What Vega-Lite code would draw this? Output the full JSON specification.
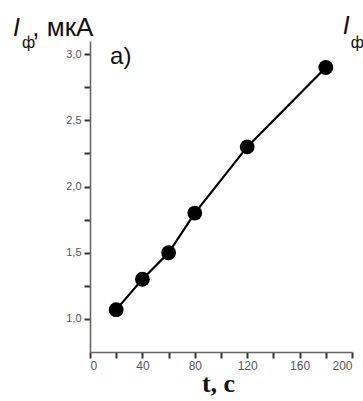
{
  "$schema": "https://vega.github.io/schema/vega-lite/v6.json",
  "width": 262,
  "height": 311,
  "autosize": {"type": "none"},
  "padding": {"left": 90, "top": 41, "right": 11, "bottom": 49},
  "background": "white",
  "config": {
    "view": {"stroke": null},
    "axis": {"grid": false, "domainColor": "#666", "domainWidth": 1.6, "ticks": true, "tickColor": "#333", "tickWidth": 2, "tickSize": 6, "labelColor": "#555", "labelFont": "Liberation Sans", "titleColor": "#111"}
  },
  "encoding": {
    "x": {"type": "quantitative", "scale": {"domain": [0, 200], "nice": false},
      "axis": {"values": [0, 20, 40, 60, 80, 100, 120, 140, 160, 180, 200],
        "labelExpr": "datum.value % 40 === 0 ? format(datum.value, 'd') : ''",
        "labelFontSize": 12, "labelPadding": 2,
        "title": "t, c", "titleFont": "Liberation Serif", "titleFontWeight": "bold", "titleFontSize": 26,
        "titleX": 128, "titleY": 39, "titleBaseline": "alphabetic"}},
    "y": {"type": "quantitative", "scale": {"domain": [0.75, 3.1], "nice": false, "zero": false},
      "axis": {"values": [1.0, 1.25, 1.5, 1.75, 2.0, 2.25, 2.5, 2.75, 3.0],
        "labelExpr": "datum.value % 0.5 === 0 ? replace(format(datum.value, '.1f'), '.', ',') : ''",
        "labelFontSize": 11, "labelPadding": 3, "title": null}}
  },
  "layer": [
    {
      "data": {"values": [
        {"t": 20, "I": 1.07},
        {"t": 40, "I": 1.3},
        {"t": 60, "I": 1.5},
        {"t": 80, "I": 1.8},
        {"t": 120, "I": 2.3},
        {"t": 180, "I": 2.9}
      ]},
      "encoding": {"x": {"field": "t"}, "y": {"field": "I"}},
      "layer": [
        {"mark": {"type": "line", "color": "black", "strokeWidth": 2.2}},
        {"mark": {"type": "point", "filled": true, "color": "black", "opacity": 1, "size": 220}}
      ]
    },
    {
      "data": {"values": [{}]},
      "mark": {"type": "text", "text": "I", "font": "Liberation Sans", "fontStyle": "italic", "fontSize": 25, "align": "left", "baseline": "alphabetic", "color": "#111", "clip": false},
      "encoding": {"x": {"datum": -58.8}, "y": {"datum": 3.136}}
    },
    {
      "data": {"values": [{}]},
      "mark": {"type": "text", "text": "ф", "font": "Liberation Sans", "fontSize": 16, "align": "left", "baseline": "alphabetic", "color": "#111", "clip": false},
      "encoding": {"x": {"datum": -52}, "y": {"datum": 3.045}}
    },
    {
      "data": {"values": [{}]},
      "mark": {"type": "text", "text": ", мкА", "font": "Liberation Sans", "fontSize": 26, "align": "left", "baseline": "alphabetic", "color": "#111", "clip": false},
      "encoding": {"x": {"datum": -44}, "y": {"datum": 3.136}}
    },
    {
      "data": {"values": [{}]},
      "mark": {"type": "text", "text": "а)", "font": "Liberation Sans", "fontSize": 24, "align": "left", "baseline": "alphabetic", "color": "#111", "clip": false},
      "encoding": {"x": {"datum": 15.3}, "y": {"datum": 2.925}}
    },
    {
      "data": {"values": [{}]},
      "mark": {"type": "text", "text": "I", "font": "Liberation Sans", "fontStyle": "italic", "fontSize": 25, "align": "left", "baseline": "alphabetic", "color": "#111", "clip": false},
      "encoding": {"x": {"datum": 193}, "y": {"datum": 3.15}}
    },
    {
      "data": {"values": [{}]},
      "mark": {"type": "text", "text": "ф", "font": "Liberation Sans", "fontSize": 16, "align": "left", "baseline": "alphabetic", "color": "#111", "clip": false},
      "encoding": {"x": {"datum": 199}, "y": {"datum": 3.045}}
    }
  ]
}
